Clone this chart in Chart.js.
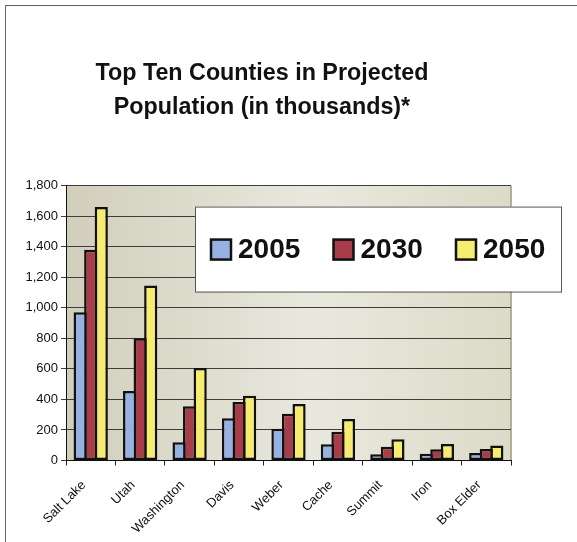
<!DOCTYPE html>
<html>
<head>
<meta charset="utf-8">
<script src="https://cdn.jsdelivr.net/npm/chart.js@4.4.1/dist/chart.umd.min.js"></script>
<style>
  html, body { margin: 0; padding: 0; background: #fff; }
  #wrap { position: relative; width: 577px; height: 542px; }
  #frame {
    position: absolute; left: 5px; top: 5px; right: 0; bottom: 0;
    border-left: 1px solid #6b6b6b; border-top: 1.5px solid #5e5e5e;
    pointer-events: none;
  }
  canvas { display: block; }
</style>
</head>
<body>
<div id="wrap">
  <canvas id="chart" width="577" height="542"></canvas>
  <div id="frame"></div>
</div>
<script>
// data (thousands)
const counties = ["Salt Lake", "Utah", "Washington", "Davis", "Weber", "Cache", "Summit", "Iron", "Box Elder"];
const years = ["2005", "2030", "2050"];
const pop2005 = [970, 455, 120, 276, 208, 106, 41, 44, 49];
const pop2030 = [1380, 800, 355, 383, 306, 189, 90, 73, 75];
const pop2050 = [1660, 1145, 605, 424, 370, 272, 139, 108, 99];
const yMin = 0;
const yMax = 1800;
const yStep = 200;
const titleLines = ["Top Ten Counties in Projected", "Population (in thousands)*"];

const FONT = "'Liberation Sans', Arial, Helvetica, sans-serif";
const colors = ["#97b1e2", "#a63d49", "#f5ec70"];

// gradient behind the bars + olive right edge
const plotBackground = {
  id: "plotBackground",
  beforeDraw(chart) {
    const {ctx, chartArea: {left, top, right, bottom}} = chart;
    const g = ctx.createLinearGradient(left, 0, right, 0);
    g.addColorStop(0, "#d1cebb");
    g.addColorStop(0.55, "#e8e8de");
    g.addColorStop(1, "#dcdbc8");
    ctx.save();
    ctx.fillStyle = g;
    ctx.fillRect(left, top, right - left, bottom - top);
    ctx.strokeStyle = "#9c9a74";
    ctx.lineWidth = 1.5;
    ctx.beginPath();
    ctx.moveTo(right, top);
    ctx.lineTo(right, bottom);
    ctx.stroke();
    ctx.restore();
  }
};

// the legend sits in a white box over the top right of the plot
const boxLegend = {
  id: "boxLegend",
  afterDraw(chart) {
    const {ctx, chartArea: {left, top}} = chart;
    const x = left + 129, y = top + 21, w = 366, h = 85;
    ctx.save();
    ctx.fillStyle = "#ffffff";
    ctx.fillRect(x, y, w, h);
    ctx.strokeStyle = "#555";
    ctx.lineWidth = 1;
    ctx.strokeRect(x + 0.5, y + 0.5, w, h);

    ctx.font = "bold 28px " + FONT;
    ctx.textBaseline = "middle";
    chart.data.datasets.forEach((ds, i) => {
      const sx = x + 16 + i * 122.5;
      const sy = y + 33;
      ctx.fillStyle = ds.backgroundColor;
      ctx.fillRect(sx, sy, 20, 20);
      ctx.strokeStyle = "#111";
      ctx.lineWidth = 2.5;
      ctx.strokeRect(sx, sy, 20, 20);
      ctx.fillStyle = "#111";
      ctx.fillText(ds.label, sx + 27, sy + 11);
    });
    ctx.restore();
  }
};

const datasets = [pop2005, pop2030, pop2050].map((vals, i) => ({
  label: years[i],
  data: vals,
  backgroundColor: colors[i],
  borderColor: "#111",
  borderWidth: 2.5,
  borderSkipped: false,
  inflateAmount: 0,
  categoryPercentage: 0.64,
  barPercentage: 1.25
}));

new Chart(document.getElementById("chart"), {
  type: "bar",
  data: { labels: counties, datasets: datasets },
  plugins: [plotBackground, boxLegend],
  options: {
    responsive: false,
    animation: false,
    layout: { padding: { left: 13, right: 66, top: 0, bottom: 0 } },
    plugins: {
      legend: { display: false },
      tooltip: { enabled: false },
      title: {
        display: true,
        text: titleLines,
        color: "#111",
        font: { family: FONT, size: 23.3, weight: "bold", lineHeight: 1.45 },
        padding: { top: 56.5, bottom: 61.5 }
      }
    },
    scales: {
      x: {
        grid: { display: true, drawOnChartArea: false, drawTicks: true, tickLength: 5, color: "#222", offset: true },
        border: { color: "#111", width: 1 },
        ticks: {
          autoSkip: false, minRotation: 45, maxRotation: 45,
          color: "#111", padding: 12, labelOffset: -7,
          font: { family: FONT, size: 13 }
        },
        afterFit(scale) { scale.height = 81.5; }
      },
      y: {
        min: yMin, max: yMax,
        grid: { color: "#3d3d3d", lineWidth: 1, tickLength: 5 },
        border: { color: "#111", width: 1 },
        ticks: {
          stepSize: yStep, color: "#111", padding: 3,
          font: { family: FONT, size: 13 }
        },
        afterFit(scale) { scale.width = 53; }
      }
    }
  }
});
</script>
</body>
</html>
